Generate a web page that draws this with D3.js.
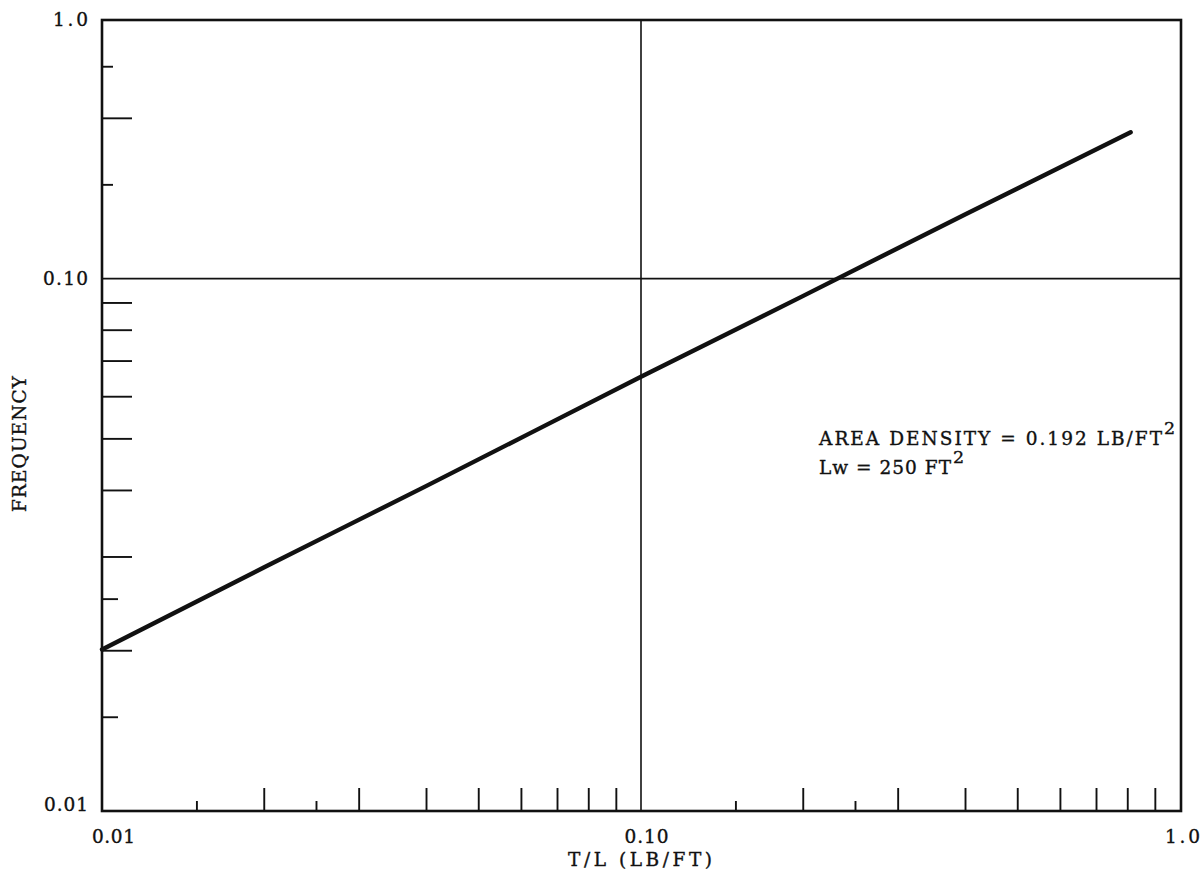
<!DOCTYPE html>
<html>
<head>
<meta charset="utf-8">
<script src="https://cdn.jsdelivr.net/npm/d3@7"></script>
<style>
  html, body { margin: 0; padding: 0; background: #fff; }
  svg { display: block; }
  text { font-family: "DejaVu Serif", "Liberation Serif", serif; fill: #111; stroke: #111; stroke-width: 0.35px; }
</style>
</head>
<body>
<svg id="chart" width="1201" height="875"></svg>
<script>
// Frequency versus thrust-to-length ratio (log-log)
const tlValues   = [0.01, 0.02, 0.04, 0.10, 0.20, 0.40, 0.81];
const freqValues = [0.0201, 0.0287, 0.0408, 0.0654, 0.0928, 0.1321, 0.1883];

// axis extents and labelled ticks
const xDomain = [0.01, 1.0];
const yDomain = [0.01, 0.306];
const xLabelValues = [0.01, 0.10, 1.0];
const xLabelTexts  = ["0.01", "0.10", "1.0"];
const yLabelValues = [0.01, 0.10, 0.306];
const yLabelTexts  = ["0.01", "0.10", "1.0"];

// minor tick marks along the bottom and left edges
const xMinorTicks = [0.015, 0.02, 0.025, 0.03, 0.04, 0.05, 0.06, 0.07, 0.08, 0.09,
                     0.15, 0.2, 0.25, 0.3, 0.4, 0.5, 0.6, 0.7, 0.8, 0.9];
const xShortTicks = [0.015, 0.025, 0.15, 0.25];
const yMinorTicks = [0.015, 0.02, 0.025, 0.03, 0.04, 0.05, 0.06, 0.07, 0.08, 0.09,
                     0.15, 0.2, 0.25];
const yShortTicks = [0.015, 0.025, 0.15, 0.25];

// reference grid lines
const xGrid = [0.10];
const yGrid = [0.10];

const annotationLines = [
  { text: "AREA DENSITY = 0.192 LB/FT", sup: "2" },
  { text: "Lw = 250 FT", sup: "2" }
];

(function draw() {
  const svg = d3.select("#chart");
  svg.append("rect").attr("width", 1201).attr("height", 875).attr("fill", "#fff");

  const mLeft = 102, mRight = 1180, mTop = 20, mBottom = 811;
  const fontSize = 18.5;

  const x = d3.scaleLog().domain(xDomain).range([mLeft, mRight]);
  const y = d3.scaleLog().domain(yDomain).range([mBottom, mTop]);

  const ink = "#111";

  // grid lines
  svg.append("g").selectAll("line").data(xGrid).join("line")
    .attr("x1", d => x(d)).attr("x2", d => x(d))
    .attr("y1", mTop).attr("y2", mBottom)
    .attr("stroke", ink).attr("stroke-width", 1.6);
  svg.append("g").selectAll("line").data(yGrid).join("line")
    .attr("x1", mLeft).attr("x2", mRight + 1)
    .attr("y1", d => y(d)).attr("y2", d => y(d))
    .attr("stroke", ink).attr("stroke-width", 1.6);

  // tick marks drawn inward from the frame
  svg.append("g").selectAll("line").data(xMinorTicks).join("line")
    .attr("x1", d => x(d)).attr("x2", d => x(d))
    .attr("y1", mBottom)
    .attr("y2", d => mBottom - (xShortTicks.includes(d) ? 10 : 23))
    .attr("stroke", ink).attr("stroke-width", 1.9);
  svg.append("g").selectAll("line").data(yMinorTicks).join("line")
    .attr("y1", d => y(d)).attr("y2", d => y(d))
    .attr("x1", mLeft)
    .attr("x2", d => mLeft + (yShortTicks.includes(d) ? (d < 0.1 ? 16 : 11) : 30))
    .attr("stroke", ink).attr("stroke-width", 1.9);

  // frame
  svg.append("rect")
    .attr("x", mLeft).attr("y", mTop)
    .attr("width", mRight + 1 - mLeft).attr("height", mBottom - mTop)
    .attr("fill", "none").attr("stroke", ink).attr("stroke-width", 2.6);

  // curve
  const line = d3.line()
    .x((d, i) => x(tlValues[i]))
    .y(d => y(d))
    .curve(d3.curveMonotoneX);
  svg.append("path")
    .datum(freqValues)
    .attr("d", line)
    .attr("fill", "none")
    .attr("stroke", ink)
    .attr("stroke-width", 4.4)
    .attr("stroke-linecap", "round");

  // bottom axis labels
  const xLabelShift = [11, 5, 2];
  const xLabelWidth = [43, 44, 35];
  const xAxis = d3.axisBottom(x)
    .tickValues(xLabelValues)
    .tickFormat((d, i) => xLabelTexts[i])
    .tickSize(0);
  const gx = svg.append("g").attr("transform", `translate(0,${mBottom + 16})`).call(xAxis);
  gx.select(".domain").remove();
  gx.selectAll("text")
    .attr("font-size", fontSize).attr("fill", ink)
    .attr("font-family", '"DejaVu Serif", serif')
    .attr("x", (d, i) => xLabelShift[i])
    .attr("textLength", (d, i) => xLabelWidth[i])
    .attr("lengthAdjust", "spacing");

  // left axis labels
  const yLabelWidth = [44, 45, 35];
  const yAxis = d3.axisLeft(y)
    .tickValues(yLabelValues)
    .tickFormat((d, i) => yLabelTexts[i])
    .tickSize(0);
  const gy = svg.append("g").attr("transform", `translate(${mLeft - 14},0)`).call(yAxis);
  gy.select(".domain").remove();
  gy.selectAll("text")
    .attr("font-size", fontSize).attr("fill", ink)
    .attr("font-family", '"DejaVu Serif", serif')
    .attr("x", 0)
    .attr("textLength", (d, i) => yLabelWidth[i])
    .attr("lengthAdjust", "spacing")
    .attr("dy", (d, i) => i === 0 ? "-0.05em" : "0.32em");

  // axis titles
  svg.append("text")
    .attr("x", 568).attr("y", 866)
    .attr("font-size", fontSize)
    .attr("textLength", 144).attr("lengthAdjust", "spacing")
    .text("T/L (LB/FT)");
  svg.append("text")
    .attr("transform", "translate(26,512) rotate(-90)")
    .attr("font-size", fontSize)
    .attr("textLength", 136).attr("lengthAdjust", "spacing")
    .text("FREQUENCY");

  // annotation
  const annWidths = [343, 132];
  const ann = svg.append("g");
  annotationLines.forEach((l, i) => {
    const base = 445 + i * 29;
    ann.append("text")
      .attr("x", 819).attr("y", base)
      .attr("font-size", fontSize)
      .attr("textLength", annWidths[i]).attr("lengthAdjust", "spacing")
      .text(l.text);
    ann.append("text")
      .attr("x", 819 + annWidths[i] + 2).attr("y", base - 11)
      .attr("font-size", fontSize - 1)
      .text(l.sup);
  });
})();
</script>
</body>
</html>
